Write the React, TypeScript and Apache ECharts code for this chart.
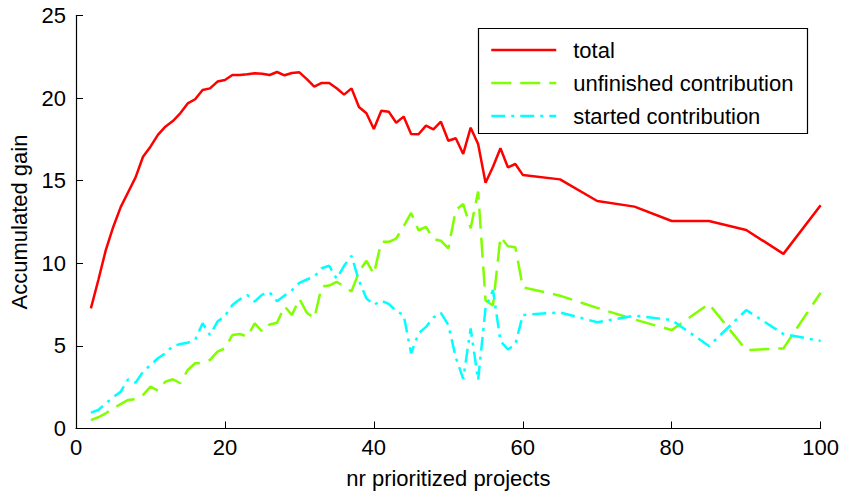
import React, { useEffect, useRef } from "react";
import * as echarts from "echarts";

// number of prioritized projects (x positions of every sample)
const projectCounts = [
  2, 3, 4, 5, 6, 7, 8, 9, 10, 11, 12, 13, 14, 15, 16, 17, 18, 19, 20, 21,
  22, 23, 24, 25, 26, 27, 28, 29, 30, 31, 32, 33, 34, 35, 36, 37, 38, 39, 40, 41,
  42, 43, 44, 45, 46, 47, 48, 49, 50, 51, 52, 53, 54, 55, 56, 57, 58, 59, 60,
  65, 70, 75, 80, 85, 90, 95, 100,
];

const totalGain = [
  7.27, 8.99, 10.8, 12.2, 13.4, 14.3, 15.2, 16.45, 17.06, 17.77, 18.27, 18.61, 19.08, 19.68, 19.93, 20.49, 20.59, 21.0, 21.1, 21.4,
  21.4, 21.44, 21.5, 21.48, 21.4, 21.58, 21.38, 21.52, 21.56, 21.15, 20.69, 20.92, 20.92, 20.6, 20.21, 20.59, 19.46, 19.08, 18.13, 19.24,
  19.18, 18.51, 18.88, 17.83, 17.81, 18.33, 18.11, 18.57, 17.42, 17.57, 16.62, 18.21, 17.22, 14.88, 15.85, 16.96, 15.81, 16.01, 15.35,
  15.08, 13.77, 13.43, 12.56, 12.56, 12.02, 10.57, 13.51,
];

const unfinishedGain = [
  0.51, 0.68, 0.92, 1.22, 1.48, 1.73, 1.77, 2.03, 2.53, 2.29, 2.83, 2.98, 2.74, 3.54, 3.95, 3.98, 4.15, 4.65, 4.85, 5.66,
  5.72, 5.56, 6.37, 5.86, 6.3, 6.4, 7.4, 6.87, 7.85, 7.0, 6.67, 8.6, 8.65, 8.88, 8.6, 8.3, 9.48, 10.15, 9.35, 11.3,
  11.3, 11.5, 12.24, 13.05, 12.0, 12.2, 11.47, 11.37, 10.9, 13.23, 13.59, 12.12, 14.34, 7.75, 7.45, 11.6, 11.03, 10.97, 8.55,
  8.04, 7.3, 6.6, 5.96, 7.54, 4.75, 4.85, 8.22,
];

const startedGain = [
  0.96, 1.12, 1.52, 1.89, 2.23, 2.98, 2.77, 3.44, 3.84, 4.25, 4.55, 4.99, 5.11, 5.19, 5.36, 6.37, 5.66, 6.47, 6.81, 7.48,
  7.82, 8.08, 7.68, 8.1, 8.25, 7.7, 8.05, 8.36, 8.82, 9.02, 9.19, 9.7, 9.85, 9.07, 9.85, 10.45, 8.95, 7.88, 7.48, 7.74,
  7.54, 7.11, 6.87, 4.55, 5.76, 6.15, 6.72, 7.0, 6.27, 4.3, 3.0, 6.06, 2.94, 7.3, 8.38, 5.3, 4.78, 5.1, 6.87,
  7.03, 6.43, 6.83, 6.57, 4.99, 7.17, 5.72, 5.3,
];

const seriesNames = ["total", "unfinished contribution", "started contribution"];
const seriesColors = ["#ff0000", "#80ff00", "#00ffff"];
const seriesDashes: (number[] | "solid")[] = ["solid", [20, 9], [14, 6, 3, 6]];

const FONT = "'Liberation Sans', Arial, Helvetica, sans-serif";

const pairs = (ys: number[]) => projectCounts.map((x, i) => [x, ys[i]]);

export default function App() {
  const ref = useRef<HTMLDivElement>(null);

  useEffect(() => {
    if (!ref.current) return;
    const chart = echarts.init(ref.current, undefined, { renderer: "svg" });

    const axisCommon = {
      axisLine: { show: true, lineStyle: { color: "#000", width: 1.2 } },
      axisTick: { show: true, inside: true, length: 7, lineStyle: { color: "#000", width: 1 } },
      splitLine: { show: false },
      axisLabel: { color: "#000", fontSize: 22, fontFamily: FONT },
      nameTextStyle: { color: "#000", fontSize: 22, fontFamily: FONT },
    };

    const lineSeries = [totalGain, unfinishedGain, startedGain].map((values, i) => ({
      name: seriesNames[i],
      type: "line",
      data: pairs(values),
      showSymbol: false,
      symbol: "none",
      color: seriesColors[i],
      lineStyle: { color: seriesColors[i], width: 2.5, type: seriesDashes[i] },
    }));

    chart.setOption({
      animation: false,
      backgroundColor: "#fff",
      textStyle: { fontFamily: FONT },
      grid: { left: 76, right: 21, top: 15.5, bottom: 66.5, containLabel: false },
      xAxis: {
        type: "value",
        min: 0,
        max: 100,
        interval: 20,
        name: "nr prioritized projects",
        nameLocation: "middle",
        nameGap: 39,
        ...axisCommon,
        axisLabel: { ...axisCommon.axisLabel, margin: 8 },
      },
      yAxis: {
        type: "value",
        min: 0,
        max: 25,
        interval: 5,
        name: "Accumulated gain",
        nameLocation: "middle",
        nameGap: 43,
        nameRotate: 90,
        ...axisCommon,
        axisLabel: { ...axisCommon.axisLabel, margin: 10 },
      },
      legend: {
        orient: "vertical",
        left: 490,
        top: 39,
        itemWidth: 65,
        itemHeight: 20,
        itemGap: 11,
        padding: 0,
        itemStyle: { opacity: 0 },
        lineStyle: { width: 2.5 },
        textStyle: { color: "#000", fontSize: 22, fontFamily: FONT, lineHeight: 20, padding: [0, 0, 0, 12] },
        data: seriesNames,
      },
      graphic: [
        {
          type: "rect",
          shape: { x: 478.5, y: 28.5, width: 329, height: 105 },
          style: { fill: "none", stroke: "#000", lineWidth: 1.2 },
          z: 0,
        },
      ],
      series: lineSeries,
    });

    return () => chart.dispose();
  }, []);

  return <div ref={ref} style={{ width: 842, height: 495, position: "absolute", left: 0, top: 0 }} />;
}
